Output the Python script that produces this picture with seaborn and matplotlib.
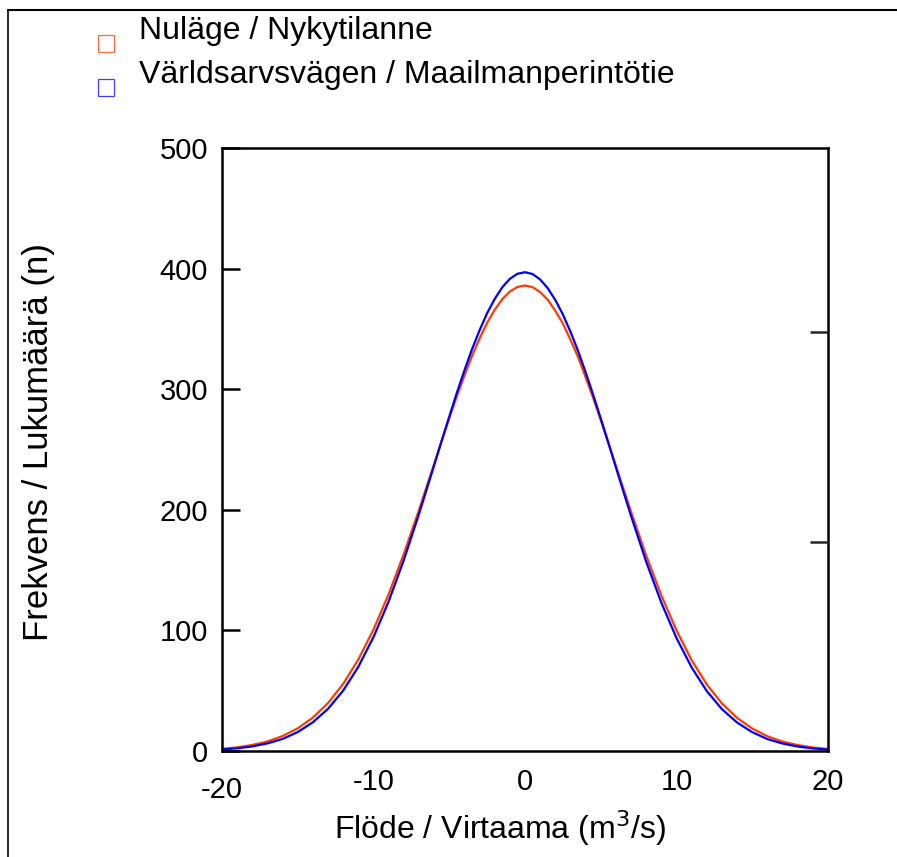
import numpy as np
import pandas as pd
import matplotlib
matplotlib.use("Agg")
import matplotlib.pyplot as plt
import seaborn as sns
from matplotlib.lines import Line2D
from matplotlib.markers import MarkerStyle
from matplotlib.transforms import Affine2D, ScaledTranslation

# flow values (m3/s) and frequency
flow = [-20, -19, -18, -17, -16, -15, -14, -13, -12, -11, -10, -9, -8, -7,
        -6.5, -6, -5.5, -5, -4.5, -4, -3.5, -3, -2.5, -2, -1.5, -1, -0.5,
        0, 0.5, 1, 1.5, 2, 2.5, 3, 3.5, 4, 4.5, 5, 5.5, 6, 6.5,
        7, 8, 9, 10, 11, 12, 13, 14, 15, 16, 17, 18, 19, 20]
nulage = [1.8, 3.0, 5.0, 7.9, 12.4, 18.8, 27.7, 39.8, 55.7, 75.9, 100.7, 130.0, 163.4, 199.8,
          218.9, 237.9, 257.1, 275.8, 294.1, 311.3, 327.5, 342.0, 355.0, 365.8, 374.6, 381.0, 384.8,
          386.0, 384.6, 380.5, 374.2, 365.0, 354.5, 341.0, 326.8, 310.0, 292.8, 274.5, 255.7, 236.5, 217.4,
          198.5, 162.0, 129.0, 100.0, 75.3, 55.2, 39.4, 27.4, 18.6, 12.2, 7.8, 4.9, 2.9, 1.7]
varldsarv = [1.3, 2.2, 3.8, 6.3, 10.0, 15.7, 23.8, 35.0, 50.1, 69.8, 94.4, 124.0, 158.3, 196.4,
             216.5, 236.7, 257.2, 277.2, 296.9, 315.5, 333.0, 348.8, 363.0, 374.8, 384.5, 391.5, 395.7,
             397.0, 395.5, 391.0, 383.8, 374.0, 362.0, 347.8, 331.8, 314.2, 295.4, 275.8, 255.7, 235.3, 215.0,
             195.0, 157.0, 123.0, 93.7, 69.3, 49.7, 34.7, 23.6, 15.6, 9.9, 6.2, 3.7, 2.1, 1.2]
series_names = ["Nuläge / Nykytilanne", "Världsarvsvägen / Maailmanperintötie"]
colors = ["#ff3c00", "#0000ff"]

df = pd.DataFrame({
    "flow": flow * 2,
    "freq": nulage + varldsarv,
    "series": [series_names[0]] * len(flow) + [series_names[1]] * len(flow),
})

sns.set_style("white")
plt.rcParams["font.family"] = ["Liberation Sans", "DejaVu Sans"]
plt.rcParams["text.color"] = "black"
plt.rcParams["axes.labelcolor"] = "black"

fig = plt.figure(figsize=(8.97, 8.57), dpi=100)
ax = fig.add_axes([0.2475, 0.1237, 0.6755, 0.7036])

sns.lineplot(data=df, x="flow", y="freq", hue="series", palette=colors,
             linewidth=1.6, legend=False, ax=ax)

ax.set_xlim(-20, 20)
ax.set_ylim(0, 500)
ax.set_xticks([-20, -10, 0, 10, 20])
ax.set_yticks([0, 100, 200, 300, 400, 500])
ax.set_xticklabels(["-20", "-10", "0", "10", "20"])
ax.tick_params(axis="both", direction="in", length=13, width=1.8,
               labelsize=21, colors="black", labelcolor="black", pad=12)
ax.tick_params(axis="y", pad=10)
for s in ax.spines.values():
    s.set_linewidth(1.8)
    s.set_color("black")

# the -20 label sits a little lower in the original
lbl = ax.get_xticklabels()[0]
lbl.set_transform(lbl.get_transform() + ScaledTranslation(0, -6 / 72, fig.dpi_scale_trans))

ax.set_xlabel("Flöde / Virtaama (m$^3$/s)", fontsize=23, va="top")
ax.set_ylabel("Frekvens / Lukumäärä (n)", fontsize=25)
ax.xaxis.set_label_coords(0.459, -0.095)
ax.yaxis.set_label_coords(-0.275, 0.512)

# unlabeled secondary scale on the right
ax2 = ax.twinx()
ax2.set_ylim(0, 1.44)
ax2.set_yticks([0.5, 1.0])
ax2.set_yticklabels([])
ax2.tick_params(axis="y", direction="in", length=13, width=1.8)
for s in ax2.spines.values():
    s.set_visible(False)

# legend with hollow squares set slightly below the text
handles = []
for name, c in zip(series_names, colors):
    m = MarkerStyle("s", fillstyle="none", transform=Affine2D().translate(0, -0.94))
    handles.append(Line2D([], [], linestyle="none", marker=m, markersize=12.2,
                          color=c, markeredgecolor=c, markeredgewidth=0.9,
                          alpha=0.75, label=name))
fig.legend(handles=handles, loc="upper left", bbox_to_anchor=(0.0857, 0.9965),
           frameon=False, fontsize=23, handlelength=1.0, handletextpad=0.56,
           labelspacing=0.45, borderaxespad=0.0)

# figure border lines (left and top)
fig.add_artist(Line2D([0.009, 0.009], [0.0, 0.988], transform=fig.transFigure,
                      color="black", linewidth=1.2))
fig.add_artist(Line2D([0.009, 1.0], [0.988, 0.988], transform=fig.transFigure,
                      color="black", linewidth=1.5))

fig.savefig("out.png", dpi=100)
